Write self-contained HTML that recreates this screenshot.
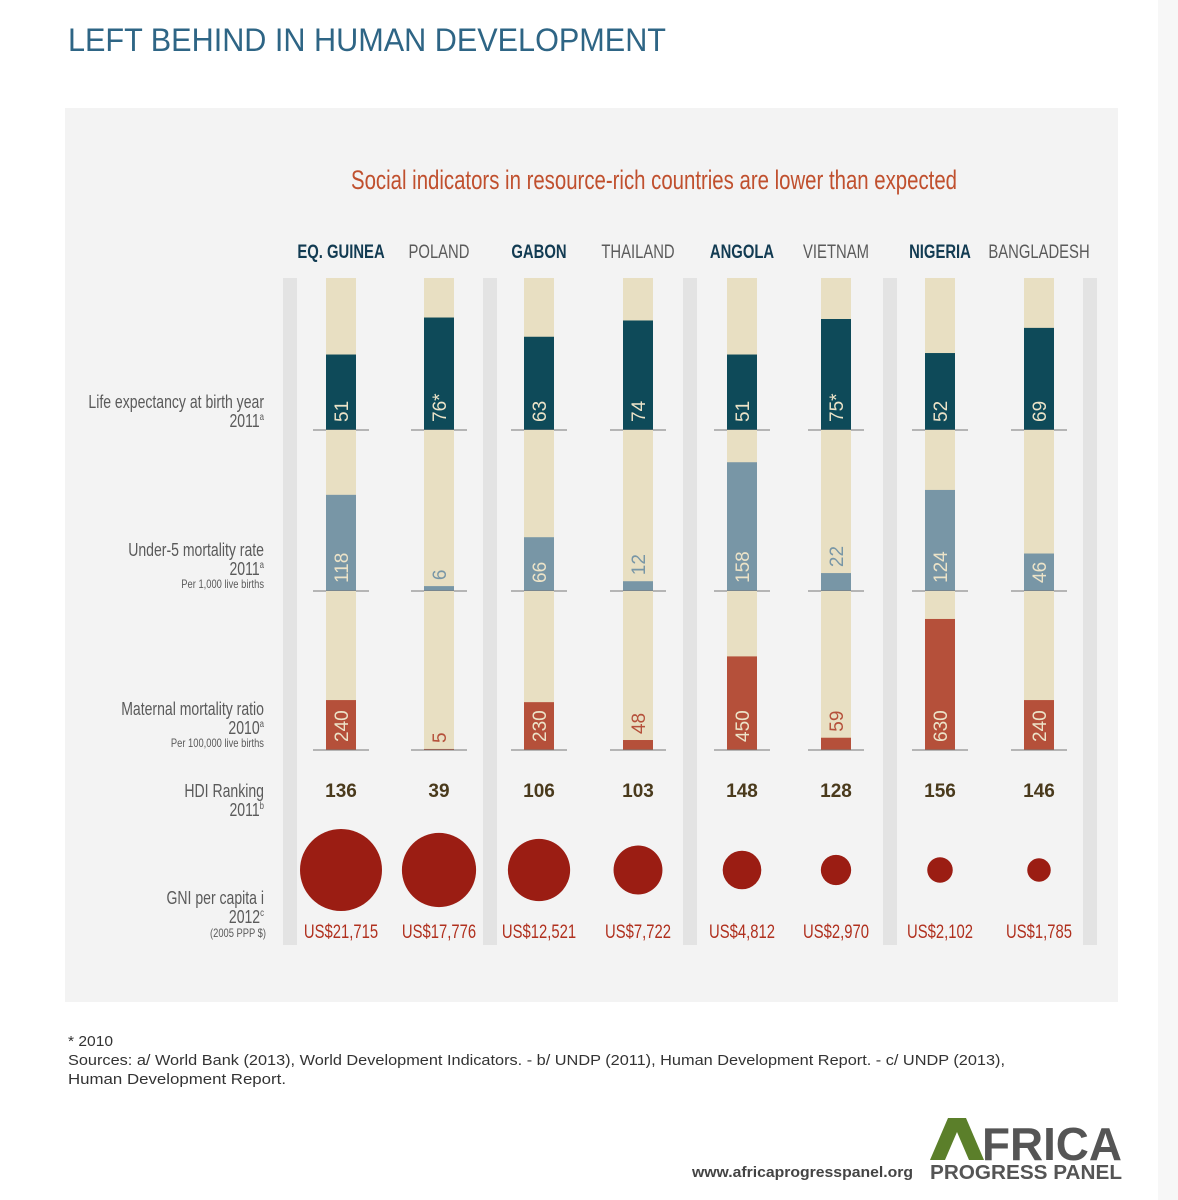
<!DOCTYPE html>
<html><head><meta charset="utf-8">
<style>
html,body{margin:0;padding:0;background:#fff;}
body{width:1178px;height:1200px;position:relative;overflow:hidden;font-family:"Liberation Sans",sans-serif;}
svg{position:absolute;left:0;top:0;}
.n{font-family:"Liberation Sans Narrow","Liberation Sans",sans-serif;}
</style></head>
<body>
<svg id="chart" width="1178" height="1200" viewBox="0 0 1178 1200">
  <rect x="1158" y="0" width="20" height="1200" fill="#f7f7f7"/>
  <text x="68" y="51" font-size="32" fill="#2e6585" font-family="Liberation Sans, sans-serif" textLength="598" lengthAdjust="spacingAndGlyphs">LEFT BEHIND IN HUMAN DEVELOPMENT</text>
  <rect x="65" y="108" width="1053" height="894" fill="#f3f3f3"/>
  <text class="n" x="654" y="189" font-size="27" fill="#c0502e" text-anchor="middle" textLength="606" lengthAdjust="spacingAndGlyphs">Social indicators in resource-rich countries are lower than expected</text>
  <g id="seps"></g>
  <g id="rowlabels" fill="#5a5a5a" text-anchor="end">
    <text class="n c" x="264" y="408" font-size="18">Life expectancy at birth year</text>
    <text class="n c" x="264" y="427" font-size="18">2011<tspan font-size="10" dy="-7">a</tspan></text>
    <text class="n c" x="264" y="556" font-size="18">Under-5 mortality rate</text>
    <text class="n c" x="264" y="575" font-size="18">2011<tspan font-size="10" dy="-7">a</tspan></text>
    <text class="n c" x="264" y="588" font-size="12">Per 1,000 live births</text>
    <text class="n c" x="264" y="715" font-size="18">Maternal mortality ratio</text>
    <text class="n c" x="264" y="734" font-size="18">2010<tspan font-size="10" dy="-7">a</tspan></text>
    <text class="n c" x="264" y="747" font-size="12">Per 100,000 live births</text>
    <text class="n c" x="264" y="797" font-size="18">HDI Ranking</text>
    <text class="n c" x="264" y="816" font-size="18">2011<tspan font-size="10" dy="-7">b</tspan></text>
    <text class="n c" x="264" y="904" font-size="18">GNI per capita i</text>
    <text class="n c" x="264" y="923" font-size="18">2012<tspan font-size="10" dy="-7">c</tspan></text>
    <text class="n c" x="266" y="937" font-size="12">(2005 PPP $)</text>
  </g>
  <g id="cols"></g>
  <g font-size="15" fill="#333" font-family="Liberation Sans, sans-serif">
    <text x="68" y="1046" textLength="45" lengthAdjust="spacingAndGlyphs">* 2010</text>
    <text x="68" y="1065" textLength="937" lengthAdjust="spacingAndGlyphs">Sources: a/ World Bank (2013), World Development Indicators. - b/ UNDP (2011), Human Development Report. - c/ UNDP (2013),</text>
    <text x="68" y="1084" textLength="218" lengthAdjust="spacingAndGlyphs">Human Development Report.</text>
  </g>
  <text x="692" y="1177" font-size="15" font-weight="bold" fill="#444" textLength="221" lengthAdjust="spacingAndGlyphs">www.africaprogresspanel.org</text>
  <g>
    <polygon points="930,1160 948,1118 966,1118 984,1160 969,1160 957,1132 945,1160" fill="#5b7f2a"/>
    <text x="982" y="1160" font-size="46" font-weight="bold" fill="#555" textLength="140" lengthAdjust="spacingAndGlyphs">FRICA</text>
    <text x="930" y="1179" font-size="20" font-weight="bold" fill="#555" textLength="192" lengthAdjust="spacingAndGlyphs">PROGRESS PANEL</text>
  </g>
</svg>
<script>
const countries = ["EQ. GUINEA","POLAND","GABON","THAILAND","ANGOLA","VIETNAM","NIGERIA","BANGLADESH"];
const resourceRich = [true,false,true,false,true,false,true,false];
const lifeExp = [51,76,63,74,51,75,52,69];
const lifeLabels = ["51","76*","63","74","51","75*","52","69"];
const under5 = [118,6,66,12,158,22,124,46];
const maternal = [240,5,230,48,450,59,630,240];
const hdiRank = [136,39,106,103,148,128,156,146];
const gni = [21715,17776,12521,7722,4812,2970,2102,1785];
const gniLabels = ["US$21,715","US$17,776","US$12,521","US$7,722","US$4,812","US$2,970","US$2,102","US$1,785"];

const NS="http://www.w3.org/2000/svg";
const colX = [341,439,539,638,742,836,940,1039];
const xOf = i => colX[i];
const lifeY = v => 430 - v*1.48;
const u5Y = v => 591 - v*0.815;
const matY = v => 750 - v*0.208;
const rOf = v => 41*Math.sqrt(v/21715);
function mk(tag, attrs, parent){const e=document.createElementNS(NS,tag);for(const k in attrs)e.setAttribute(k,attrs[k]);parent.appendChild(e);return e;}
function condense(t,f){const L=t.getComputedTextLength();if(L>0){t.setAttribute('textLength',(L*f).toFixed(1));t.setAttribute('lengthAdjust','spacingAndGlyphs');}}

const seps=document.getElementById('seps');
[283,483,683,883,1083].forEach(x=>{
  const r=mk('rect',{x:x,y:278,width:14,height:667,fill:'#e3e3e3'},seps);
  
  
});

const cols=document.getElementById('cols');
const sections=[
  {vals:lifeExp,labels:lifeLabels,top:278,base:430,y:lifeY,color:'#0e4a59',name:'life'},
  {vals:under5,labels:under5.map(String),top:430,base:591,y:u5Y,color:'#7896a6',name:'under5'},
  {vals:maternal,labels:maternal.map(String),top:591,base:750,y:matY,color:'#b5503a',name:'maternal'}
];
countries.forEach((c,i)=>{
  const cx=xOf(i);
  const g=mk('g',{},cols);
  
  
  const h=mk('text',{x:cx,y:258,'text-anchor':'middle','font-size':19,fill:resourceRich[i]?'#123b52':'#5a5a5a','font-weight':resourceRich[i]?'bold':'normal',class:'n c'},g);
  h.textContent=c;
  
  
  sections.forEach(s=>{
    const bg=mk('rect',{x:cx-15,y:s.top,width:30,height:s.base-s.top,fill:'#e8dfc2'},g);
    
    
    const top=s.y(s.vals[i]);
    const b=mk('rect',{x:cx-15,y:top,width:30,height:s.base-top,fill:s.color},g);
    
    
    const ln=mk('line',{x1:cx-28,x2:cx+28,y1:s.base,y2:s.base,stroke:'#777','stroke-width':1},g);
    
    
    const small=(s.base-top)<30;
    const ty=small?Math.min(s.base-6,top-6):s.base-8;
    const t=mk('text',{x:0,y:0,'font-size':19,fill:small?s.color:'#ece3c8',transform:'translate('+(cx+7)+','+ty+') rotate(-90)'},g);
    t.textContent=s.labels[i];
    
    
  });
  const hd=mk('text',{x:cx,y:797,'text-anchor':'middle','font-size':19,'font-weight':'bold',fill:'#4a3a1c'},g);
  hd.textContent=hdiRank[i];
  
  
  const ci=mk('circle',{cx:cx,cy:870,r:rOf(gni[i]),fill:'#9b1d13'},g);
  
  
  const gl=mk('text',{x:cx,y:938,'text-anchor':'middle','font-size':19,fill:'#b0301e',class:'n c'},g);
  gl.textContent=gniLabels[i];
  
  
});
document.querySelectorAll('text.c').forEach(t=>condense(t,0.78));
</script>
</body></html>
